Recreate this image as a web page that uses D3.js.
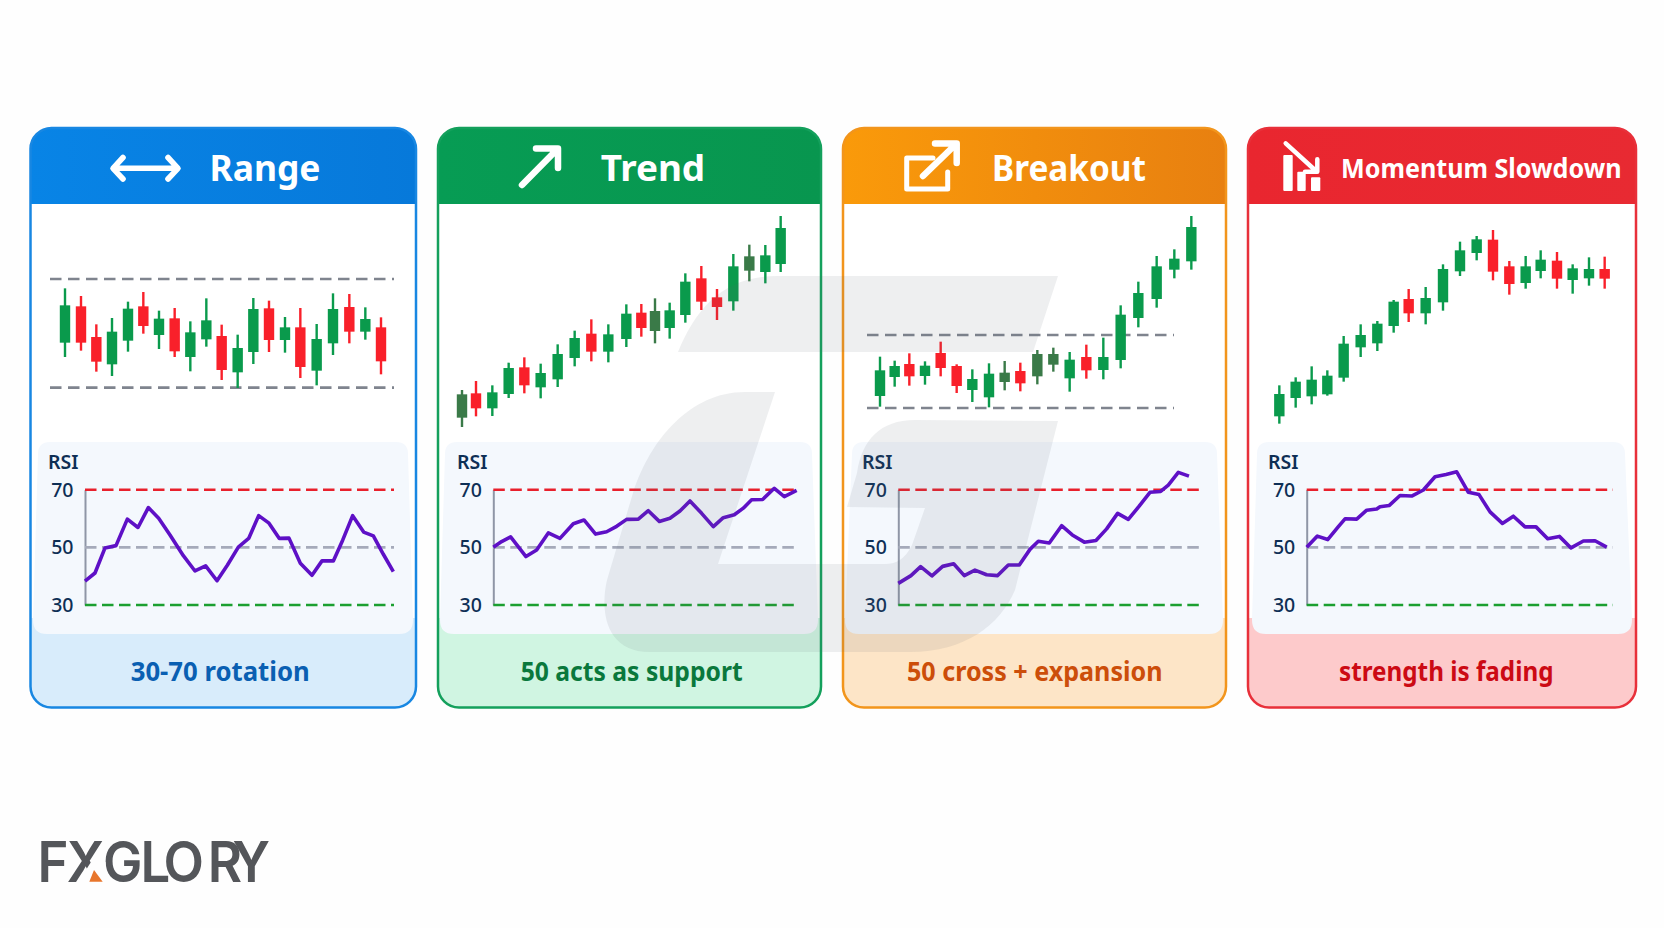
<!DOCTYPE html>
<html><head><meta charset="utf-8">
<script src="https://cdn.jsdelivr.net/npm/d3@7/dist/d3.min.js"></script>
<style>html,body{margin:0;padding:0;background:#fff}svg{display:block}text{font-family:"Noto Sans",sans-serif}</style>
</head><body><div id="chart"></div>
<script>
// Titles and captions
const titles = ["Range","Trend","Breakout","Momentum Slowdown"];
const captions = ["30-70 rotation","50 acts as support","50 cross + expansion","strength is fading"];
const rsiTicks = [70,50,30];

// Candles: [position, open, high, low, close]
const rangeCandles = [[135,332,495,289,444],[183,441,472,308,332],[229,349,387,245,275],[276,267,406,232,365],[324,338,455,305,434],[370,441,484,359,382],[417,355,428,313,404],[464,405,436,289,306],[511,289,396,246,363],[559,342,465,320,399],[605,352,386,220,250],[653,243,356,196,316],[700,304,466,268,433],[747,435,458,304,340],[795,340,409,302,378],[841,378,436,226,259],[890,248,388,204,343],[939,330,480,295,433],[988,439,478,330,365],[1036,365,438,341,403],[1083,378,408,237,276]];
const trendCandles = [[96,107,190,79,177],[138,180,217,111,135],[187,135,204,112,183],[236,178,272,166,256],[283,258,288,180,204],[332,198,269,165,241],[383,222,327,199,298],[434,286,368,261,346],[484,359,402,276,305],[535,305,387,273,357],[589,343,447,319,419],[634,422,448,350,376],[675,367,465,330,427],[719,376,452,344,429],[766,415,540,392,515],[814,525,562,430,455],[861,468,493,400,439],[910,456,598,428,561],[958,548,626,516,591],[1006,544,625,510,594],[1052,568,712,544,676]];
const breakoutCandles = [[135,172,290,140,249],[179,229,278,200,262],[223,268,300,203,231],[270,232,276,206,263],[317,301,335,231,256],[365,262,267,181,202],[412,190,252,154,223],[462,168,270,138,239],[509,214,277,189,242],[556,247,272,186,210],[607,231,310,207,298],[655,266,317,245,298],[704,225,304,185,281],[754,289,326,224,249],[805,250,347,222,289],[857,280,444,255,416],[910,406,515,378,481],[965,463,592,437,561],[1018,551,612,525,584],[1069,576,712,551,679]];
const slowdownCandles = [[118,111,204,89,178],[167,166,228,137,215],[215,171,261,147,221],[262,177,249,173,233],[311,227,352,215,329],[362,318,387,289,355],[412,330,397,307,389],[461,382,460,362,455],[506,463,493,394,420],[557,420,499,387,466],[609,453,567,428,553],[660,546,635,532,609],[710,601,652,579,642],[759,641,670,519,545],[808,561,577,476,508],[857,511,592,494,561],[902,547,609,525,581],[951,578,604,494,524],[998,520,567,479,555],[1047,525,588,503,553],[1094,553,590,494,524]];

// Price reference levels (range high/low, breakout box)
const rangeLevels = [523,197];
const breakoutLevels = [355,136];

// RSI: [position, value]
const rangeRsi = [[0,38.3],[30,41.1],[60,49.8],[93,50.6],[127,59.8],[159,56.9],[190,63.8],[221,60.1],[255,54.3],[295,47.1],[330,41.8],[362,43.6],[396,38.4],[427,43.8],[460,50.1],[491,53.1],[521,61],[552,58.4],[583,53.1],[612,53.2],[646,44.5],[681,40.3],[711,45.3],[745,45.3],[773,52.5],[803,61],[836,55.3],[865,54],[895,47.6],[925,41.6]];
const trendRsi = [[0,50],[25,52],[52,53.6],[98,46.8],[130,49.1],[165,55],[200,53.1],[240,58.2],[272,59.5],[307,54.6],[340,55.4],[370,57.3],[400,59.7],[435,59.8],[465,62.7],[498,59],[530,60.1],[560,62.6],[590,66.1],[625,61.8],[660,57.2],[690,60.3],[723,61.3],[750,63.6],[775,66.5],[808,66.6],[843,70.5],[873,67.6],[910,69.8]];
const breakoutRsi = [[0,37.5],[38,40.2],[67,43.3],[101,40.1],[133,43.4],[166,44.3],[198,40.2],[230,42.1],[265,40.5],[298,40.2],[330,43.9],[363,43.9],[395,49.3],[420,52.1],[453,51.5],[490,57.5],[522,54.3],[558,51.8],[593,52.4],[625,56.4],[658,61.8],[690,59.7],[722,64.2],[755,69.1],[787,69.4],[810,71.6],[840,76],[872,74.7]];
const slowdownRsi = [[0,50],[32,53.9],[63,52.7],[95,57.2],[115,59.9],[150,59.8],[180,62.9],[210,63.3],[220,64.1],[247,64.5],[280,68],[315,67.8],[350,69.9],[385,74.5],[418,75.3],[450,76.2],[485,69.1],[517,68.3],[550,62.3],[587,58.3],[620,60.8],[655,57.1],[688,57.1],[723,53],[758,53.8],[793,49.8],[830,52.2],[865,52.3],[900,50.1]];

// Layout (separate from the data)
const W = 1664, H = 928;
const cardTop = 128, headBottom = 204, cardBottom = 707.5, panelTop = 442, panelBottom = 634;
const cards = [
 {l:30.5,r:416,ox:20,axis:85,end:394,label:48,lvlX:[50,394],pt:[38,408],pb:[33,413],
  c:["#0884e6","#0779da"],border:"#1887e2",foot:"#d8ecfb",capCol:"#0a5fb2",
  title:[209.5,111,36.5],cap:[130.7,179],candles:rangeCandles,levels:rangeLevels,rsi:rangeRsi,muted:[]},
 {l:438,r:821,ox:430,axis:493.3,end:799,label:457,pt:[445,812],pb:[440,818],
  c:["#079c54","#08964f"],border:"#14a05c",foot:"#d0f5e2",capCol:"#0a783c",
  title:[600.7,104.5,36.5],cap:[520.7,222],candles:trendCandles,levels:[],rsi:trendRsi,muted:[0,12,18]},
 {l:843,r:1226,ox:835,axis:898.3,end:1204,label:862,lvlX:[867,1174],pt:[852,1217],pb:[845,1223],
  c:["#fa9a0a","#e88010"],border:"#f2951c",foot:"#fde5c7",capCol:"#cc4e0a",
  title:[992,154,36.5],cap:[907,255.5],candles:breakoutCandles,levels:breakoutLevels,rsi:breakoutRsi,muted:[8,10,11]},
 {l:1248,r:1636,ox:1240,axis:1306.7,end:1613,label:1268,pt:[1257,1625],pb:[1252,1632],
  c:["#e9262f","#e82a32"],border:"#e8303a",foot:"#fdcacb",capCol:"#cc0a14",
  title:[1341,280.5,27.5],cap:[1339,214.5],candles:slowdownCandles,levels:[],rsi:slowdownRsi,muted:[]}
];
const UP = "#0a9a4c", DOWN = "#f9202a", MUTED = "#3a7a48";

const svg = d3.select("#chart").append("svg").attr("width",W).attr("height",H).attr("viewBox",[0,0,W,H]);
svg.append("rect").attr("width",W).attr("height",H).attr("fill","#fefefe");
const defs = svg.append("defs");

// Shared scales
const yPrice = d3.scaleLinear().domain([0,1000]).range([120+1000/3,120]);
const yRsi = d3.scaleLinear().domain([30,70]).range([605,489.7]);
const rsiLine = (xs) => d3.line().x(d=>xs(d[0])).y(d=>yRsi(d[1]));
const lvlStyle = {70:"#e8202c",50:"#a5aaba",30:"#1b9f30"};

const icons = [
 g=>{g.append("path").attr("d","M114,168.3H177M123,157.5L113,168.3L123,179M168,157.5L178,168.3L168,179").attr("stroke-width",5.6);},
 g=>{g.append("path").attr("d","M522,185L557,149.5M536,148.5H558V168").attr("stroke-width",6.5);},
 g=>{g.append("path").attr("d","M933,158H906.7V189H947.7V172");g.append("path").attr("d","M923,176L955,145M935,143.5H956.7V163").attr("stroke-width",6.5);},
 g=>{g.append("path").attr("d","M1285.7,143.3L1316,171M1317.3,159.3V171.7H1305").attr("stroke-width",4.5);
   g.selectAll("rect").data([[1283.3,155,9.4,36],[1297.3,171.7,8.4,19.3],[1311,177.3,9.3,13.7]]).join("rect")
    .attr("x",d=>d[0]).attr("y",d=>d[1]).attr("width",d=>d[2]).attr("height",d=>d[3]).attr("fill","#fff").attr("stroke","none").attr("rx",1);}
];

cards.forEach((c,i)=>{
  const g = svg.append("g");
  const w = c.r-c.l, h = cardBottom-cardTop, rad = 21;
  defs.append("clipPath").attr("id","clip"+i).append("rect").attr("x",c.l).attr("y",cardTop).attr("width",w).attr("height",h).attr("rx",rad);
  const grad = defs.append("linearGradient").attr("id","grad"+i);
  grad.append("stop").attr("offset","0").attr("stop-color",c.c[0]);
  grad.append("stop").attr("offset","1").attr("stop-color",c.c[1]);
  const inner = g.append("g").attr("clip-path",`url(#clip${i})`);
  inner.append("rect").attr("x",c.l).attr("y",cardTop).attr("width",w).attr("height",h).attr("fill","#fff");
  inner.append("rect").attr("x",c.l).attr("y",panelBottom-16).attr("width",w).attr("height",cardBottom-panelBottom+16).attr("fill",c.foot);
  inner.append("rect").attr("x",c.l).attr("y",cardTop).attr("width",w).attr("height",headBottom-cardTop).attr("fill",`url(#grad${i})`);
  // RSI panel with flared bottom
  inner.append("path").attr("fill","#f4f8fd").attr("d",
    `M${c.pt[0]+12},${panelTop}H${c.pt[1]-12}Q${c.pt[1]},${panelTop} ${c.pt[1]},${panelTop+12}`+
    `L${c.pb[1]},${panelBottom-14}Q${c.pb[1]},${panelBottom} ${c.pb[1]-14},${panelBottom}H${c.pb[0]+14}`+
    `Q${c.pb[0]},${panelBottom} ${c.pb[0]},${panelBottom-14}L${c.pt[0]},${panelTop+12}Q${c.pt[0]},${panelTop} ${c.pt[0]+12},${panelTop}Z`);
  g.append("rect").attr("x",c.l).attr("y",cardTop).attr("width",w).attr("height",h).attr("rx",rad)
    .attr("fill","none").attr("stroke",c.border).attr("stroke-width",2.5);

  // Header
  g.append("text").text(titles[i]).attr("x",c.title[0]).attr("y",i===3?178:180.5)
    .attr("font-size",c.title[2]).attr("font-weight",700).attr("fill","#fff")
    .attr("textLength",c.title[1]).attr("lengthAdjust","spacingAndGlyphs");
  const ic = g.append("g").attr("fill","none").attr("stroke","#fff").attr("stroke-width",5).attr("stroke-linecap","round").attr("stroke-linejoin","round");
  icons[i](ic);

  // Candles
  const xC = d3.scaleLinear().domain([0,1000]).range([c.ox,c.ox+1000/3]);
  if(c.lvlX){
    g.selectAll(".lvl").data(c.levels).join("line").attr("class","lvl")
      .attr("x1",c.lvlX[0]).attr("x2",c.lvlX[1]).attr("y1",d=>yPrice(d)).attr("y2",d=>yPrice(d))
      .attr("stroke","#7f848e").attr("stroke-width",2.7).attr("stroke-dasharray","11.5,6.5");
  }
  const col = (d,j)=> c.muted.includes(j)?MUTED:(d[4]>=d[1]?UP:DOWN);
  const cg = g.append("g");
  cg.selectAll(".wick").data(c.candles).join("line").attr("class","wick")
    .attr("x1",d=>xC(d[0])).attr("x2",d=>xC(d[0])).attr("y1",d=>yPrice(d[2])).attr("y2",d=>yPrice(d[3]))
    .attr("stroke",col).attr("stroke-width",2.4);
  cg.selectAll(".body").data(c.candles).join("rect").attr("class","body")
    .attr("x",d=>xC(d[0])-5.2).attr("width",10.4)
    .attr("y",d=>yPrice(Math.max(d[1],d[4]))).attr("height",d=>yPrice(Math.min(d[1],d[4]))-yPrice(Math.max(d[1],d[4])))
    .attr("fill",col);

  // RSI
  g.append("text").text("RSI").attr("x",c.label).attr("y",468.5).attr("font-size",19.5).attr("font-weight",600).attr("fill","#0e2f55");
  const xR = d3.scaleLinear().domain([0,1000]).range([c.axis,c.axis+1000/3]);
  const axis = g.append("g").attr("transform",`translate(${c.axis},0)`)
    .call(d3.axisLeft(yRsi).tickValues(rsiTicks).tickSize(0).tickPadding(11.5).tickFormat(d3.format("d")));
  axis.select(".domain").attr("stroke","#8f96a6").attr("stroke-width",2);
  axis.selectAll("text").attr("font-size",19.5).attr("font-weight",500).attr("fill","#0e2f55").attr("dy",".33em").style("font-family",'"Noto Sans",sans-serif');
  g.selectAll(".rl").data(rsiTicks).join("line").attr("class","rl")
    .attr("x1",c.axis).attr("x2",c.end).attr("y1",d=>yRsi(d)).attr("y2",d=>yRsi(d))
    .attr("stroke",d=>lvlStyle[d]).attr("stroke-width",2.6).attr("stroke-dasharray","11.5,5.5");
  g.append("path").datum(c.rsi).attr("d",rsiLine(xR)).attr("fill","none").attr("stroke","#5e10c6").attr("stroke-width",3.6).attr("stroke-linejoin","round");

  // Caption
  g.append("text").text(captions[i]).attr("x",c.cap[0]).attr("y",681).attr("font-size",26.5).attr("font-weight",700).attr("fill",c.capCol)
    .attr("textLength",c.cap[1]).attr("lengthAdjust","spacingAndGlyphs");
});

// Watermark on top of the cards
svg.append("path").attr("fill","rgb(95,100,110)").attr("opacity",0.105).attr("d",
 "M678,352C697,307 723,277 777,276L1058,276L1033,352Z"+
 "M775,392L745,392C690,392 650,440 633,493L607,580C600,610 605,652 650,652L910,652C965,652 1000,625 1015,590L1058,421L915,420C880,420 862,440 857,473L847,507L925,508L912,545C905,560 895,564 885,564L718,564Z");

// Logo: one text run with a position per letter, right leg of the X replaced by an accent
const logo = svg.append("g");
logo.append("text").text("FXGLORY").attr("transform","translate(37.5,881.5) scale(.94,1)").attr("x","0 31 69.7 109.6 134 181 207.5").attr("y",0)
  .style("font-family","Inter,sans-serif").attr("font-size",56).attr("font-weight",600).attr("fill","#54565a");
logo.append("path").attr("d","M91,862L105.5,862L105.5,884L77,884Z").attr("fill","#fefefe");
logo.append("path").attr("d","M94,870L102.7,881.7H89.3Z").attr("fill","#e8762c");
</script></body></html>
